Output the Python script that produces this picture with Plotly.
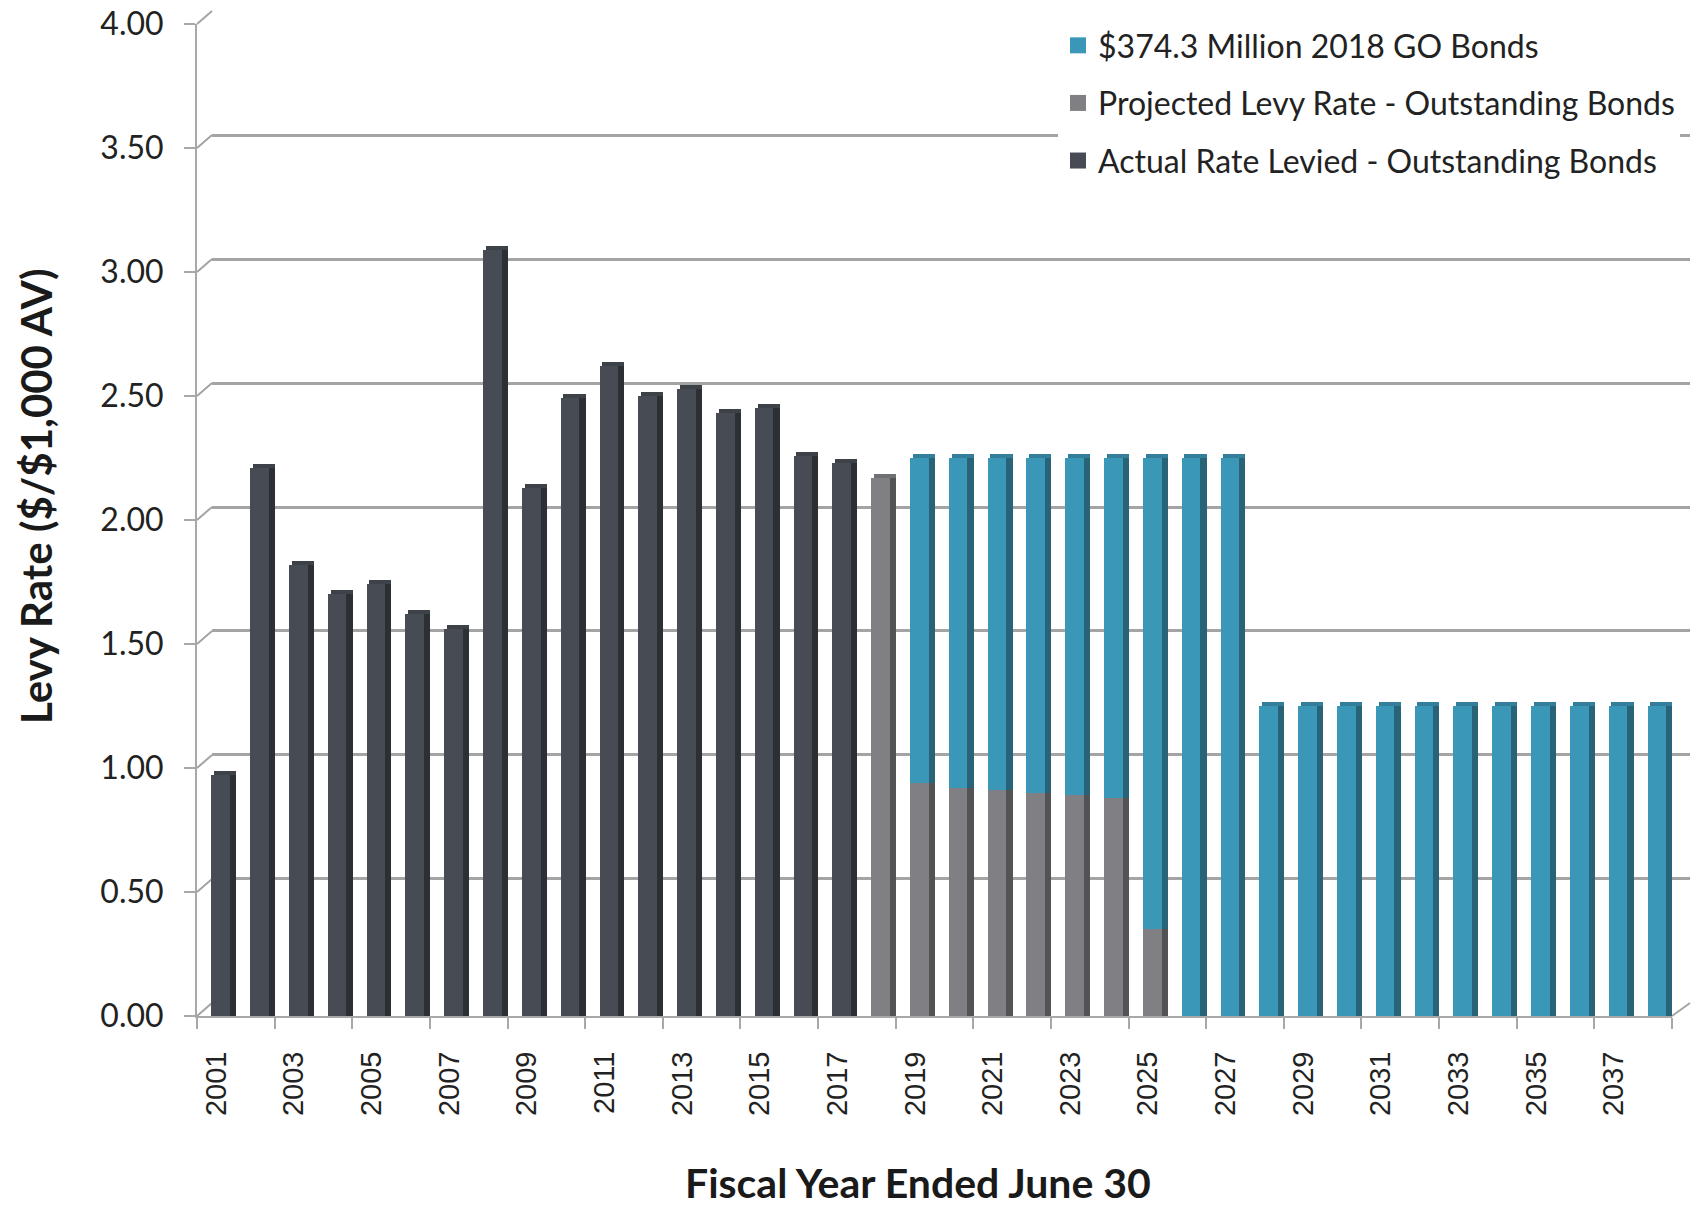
import plotly.graph_objects as go

# ---------------- data ----------------
years = list(range(2001, 2039))

actual_years = list(range(2001, 2018))
actual_rate = [0.97, 2.21, 1.82, 1.70, 1.74, 1.62, 1.56, 3.09, 2.13, 2.49,
               2.62, 2.50, 2.53, 2.43, 2.45, 2.26, 2.23]

projected_years = list(range(2018, 2026))
projected_rate = [2.17, 0.94, 0.92, 0.91, 0.90, 0.89, 0.88, 0.35]

go_years = list(range(2019, 2039))
go_rate = [1.31, 1.33, 1.34, 1.35, 1.36, 1.37, 1.90, 2.25, 2.25,
           1.25, 1.25, 1.25, 1.25, 1.25, 1.25, 1.25, 1.25, 1.25, 1.25, 1.25]

y_ticks = [0.0, 0.5, 1.0, 1.5, 2.0, 2.5, 3.0, 3.5, 4.0]
x_label_years = list(range(2001, 2039, 2))

names = ["$374.3 Million 2018 GO Bonds",
         "Projected Levy Rate - Outstanding Bonds",
         "Actual Rate Levied - Outstanding Bonds"]

# ---------------- styling ----------------
C_ACT, C_ACT_S, C_ACT_C = "#474b54", "#2c2f34", "#3d4148"
C_PRJ, C_PRJ_S, C_PRJ_C = "#808084", "#525354", "#6f7073"
C_GO, C_GO_S, C_GO_C = "#3b97b7", "#286378", "#337f9b"
GRID = "#a4a4a4"
AXIS = "#a8a8a8"

# pixel geometry of the chart (page 1701 x 1206)
L, R, T, B = 197, 11, 11, 190
W = 1701 - L - R          # paper width
H = 1206 - T - B          # paper height
front_w = 1672 - L        # front plot width
front_h = 1016 - 24       # front plot height
depth_x, depth_y = 15, 13

fx1 = front_w / W
fy1 = front_h / H
bx0 = depth_x / W
by0 = depth_y / H

prj_map = dict(zip(projected_years, projected_rate))
go_base = [prj_map.get(y, 0.0) for y in go_years]
go_top = [b + v for b, v in zip(go_base, go_rate)]
prj_cap_years = [y for y in projected_years if y not in go_years]
prj_cap_top = [prj_map[y] for y in prj_cap_years]

off_front, w_front, w_side = -0.13, 0.48, 0.64
cap_h = 4.0 / 248.0            # 3D top-cap thickness (style)
off_cap, w_cap = off_front + 0.07, w_side - 0.07

fig = go.Figure()

# invisible trace for back-wall grid subplot
fig.add_trace(go.Scatter(x=[0.5], y=[0], xaxis="x", yaxis="y", mode="markers",
                         marker=dict(opacity=0), showlegend=False, hoverinfo="skip"))


def bar(x, y, base, off, wid, col, **kw):
    return go.Bar(x=x, y=y, base=base, offset=off, width=wid,
                  marker=dict(color=col, line=dict(width=0)),
                  xaxis="x2", yaxis="y2", **kw)


# top caps (3D look)
fig.add_trace(bar(actual_years, [cap_h] * len(actual_years), actual_rate, off_cap, w_cap,
                  C_ACT_C, showlegend=False, hoverinfo="skip"))
fig.add_trace(bar(prj_cap_years, [cap_h] * len(prj_cap_years), prj_cap_top, off_cap, w_cap,
                  C_PRJ_C, showlegend=False, hoverinfo="skip"))
fig.add_trace(bar(go_years, [cap_h] * len(go_years), go_top, off_cap, w_cap,
                  C_GO_C, showlegend=False, hoverinfo="skip"))

# side faces (darker)
fig.add_trace(bar(actual_years, actual_rate, None, off_front, w_side, C_ACT_S,
                  showlegend=False, hoverinfo="skip"))
fig.add_trace(bar(projected_years, projected_rate, None, off_front, w_side, C_PRJ_S,
                  showlegend=False, hoverinfo="skip"))
fig.add_trace(bar(go_years, go_rate, go_base, off_front, w_side, C_GO_S,
                  showlegend=False, hoverinfo="skip"))

# front faces
fig.add_trace(bar(actual_years, actual_rate, None, off_front, w_front, C_ACT,
                  name=names[2], legendgroup="c", showlegend=False))
fig.add_trace(bar(projected_years, projected_rate, None, off_front, w_front, C_PRJ,
                  name=names[1], legendgroup="b", showlegend=False))
fig.add_trace(bar(go_years, go_rate, go_base, off_front, w_front, C_GO,
                  name=names[0], legendgroup="a", showlegend=False))

# legend entries with square swatches
for nm, col, grp, rk in [(names[0], C_GO, "a", 1), (names[1], C_PRJ, "b", 2),
                         (names[2], C_ACT, "c", 3)]:
    fig.add_trace(go.Scatter(x=[None], y=[None], mode="markers", name=nm,
                             legendgroup=grp, legendrank=rk,
                             marker=dict(symbol="square", size=18, color=col),
                             xaxis="x2", yaxis="y2", hoverinfo="skip"))

# connectors between front axis ticks and back-wall gridlines
shapes = []
for v in y_ticks:
    yf = v / 4.0 * fy1
    yb = by0 + v / 4.0 * (1 - by0)
    shapes.append(dict(type="line", xref="paper", yref="paper", x0=0, y0=yf, x1=bx0, y1=yb,
                       line=dict(color=GRID, width=2), layer="below"))
shapes.append(dict(type="line", xref="paper", yref="paper", x0=fx1, y0=0, x1=1, y1=by0,
                   line=dict(color=GRID, width=2), layer="below"))

fig.update_layout(
    width=1701, height=1206,
    margin=dict(l=L, r=R, t=T, b=B, pad=0, autoexpand=False),
    paper_bgcolor="white", plot_bgcolor="rgba(0,0,0,0)",
    barmode="overlay", bargap=0,
    font=dict(family="Lato", size=30, color="#222222"),
    shapes=shapes,
    showlegend=True,
    legend=dict(x=0.5767, y=0.993, xanchor="left", yanchor="top",
                bgcolor="white", borderwidth=0,
                font=dict(family="Lato", size=32, color="#222222"),
                tracegroupgap=13, itemwidth=30, itemsizing="trace"),
    # back wall (gridlines)
    xaxis=dict(domain=[bx0, 1], range=[0, 1], showgrid=False, zeroline=False,
               showticklabels=False, ticks="", showline=False, fixedrange=True,
               automargin=False),
    yaxis=dict(domain=[by0, 1], range=[-0.002, 4.002], tickvals=y_ticks, showgrid=True,
               gridcolor=GRID, gridwidth=2.5, zeroline=False, showticklabels=False,
               ticks="", showline=False, fixedrange=True, automargin=False),
    # front (bars + visible axes)
    xaxis2=dict(domain=[0, fx1], range=[2000.5, 2038.5], anchor="y2",
                tickmode="array", tickvals=x_label_years,
                ticktext=[str(y) for y in x_label_years], tickangle=-90,
                ticks="", showgrid=False, zeroline=False, automargin=False,
                showline=True, linecolor=AXIS, linewidth=2,
                tickfont=dict(family="Liberation Sans", size=29, color="#222222"),
                ticklabelstandoff=22,
                minor=dict(tickmode="linear", tick0=2000.5, dtick=2, ticks="outside",
                           ticklen=11, tickcolor=AXIS, tickwidth=2, showgrid=False)),
    yaxis2=dict(domain=[0, fy1], range=[0, 4], anchor="x2",
                tickmode="array", tickvals=y_ticks, tickformat=".2f",
                ticks="outside", ticklen=11, tickcolor=AXIS, tickwidth=2,
                showgrid=False, zeroline=False, automargin=False,
                showline=True, linecolor=AXIS, linewidth=2,
                tickfont=dict(family="Lato", size=32, color="#222222"),
                ticklabelstandoff=14),
    annotations=[
        dict(text="<b>Levy Rate ($/$1,000 AV)</b>", xref="paper", yref="paper",
             x=(36 - L) / W, y=(1016 - 496) / H, xanchor="center", yanchor="middle",
             textangle=-90, showarrow=False,
             font=dict(family="Lato", size=42, color="#1a1a1a")),
        dict(text="<b>Fiscal Year Ended June 30</b>", xref="paper", yref="paper",
             x=(918 - L) / W, y=(1016 - 1182) / H, xanchor="center", yanchor="middle",
             showarrow=False, font=dict(family="Lato", size=41, color="#1a1a1a")),
    ],
)

fig.write_html("out.html")
